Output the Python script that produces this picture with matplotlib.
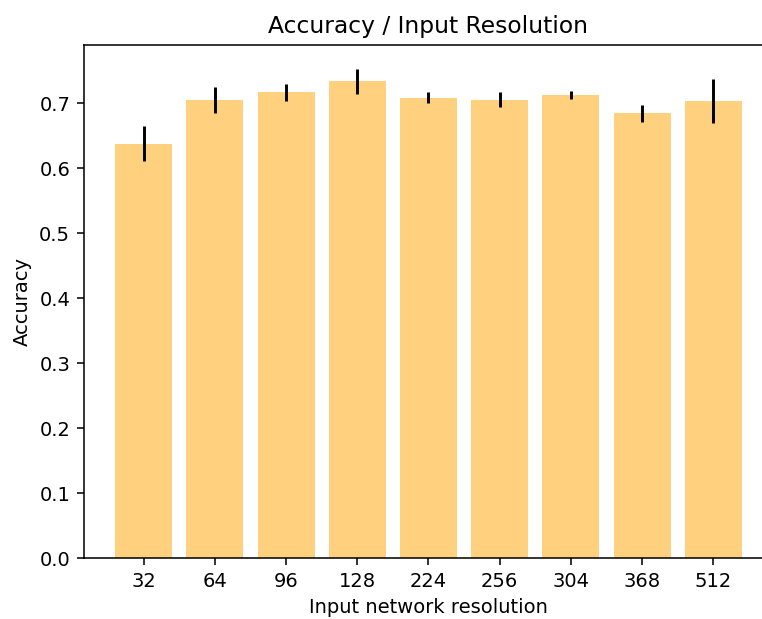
import matplotlib.pyplot as plt
import numpy as np

resolutions = ["32", "64", "96", "128", "224", "256", "304", "368", "512"]
accuracy = [0.638, 0.706, 0.717, 0.734, 0.709, 0.706, 0.713, 0.685, 0.704]
accuracy_std = [0.027, 0.020, 0.013, 0.019, 0.0085, 0.012, 0.0055, 0.013, 0.034]

x = np.arange(len(resolutions))

dpi = 140
fig, ax = plt.subplots(figsize=(762 / dpi, 619 / dpi), dpi=dpi)
# axes run slightly past the right edge of the canvas
fig.subplots_adjust(left=0.110, right=1.0145, top=0.928, bottom=0.0985)

ax.bar(x, accuracy, yerr=accuracy_std, color="orange", alpha=0.5,
       error_kw=dict(ecolor="black", elinewidth=1.5))
ax.set_xticks(x)
ax.set_xticklabels(resolutions)
ax.set_xlabel("Input network resolution")
ax.set_ylabel("Accuracy")
ax.set_title("Accuracy / Input Resolution")

plt.savefig("out.png", dpi=dpi)
